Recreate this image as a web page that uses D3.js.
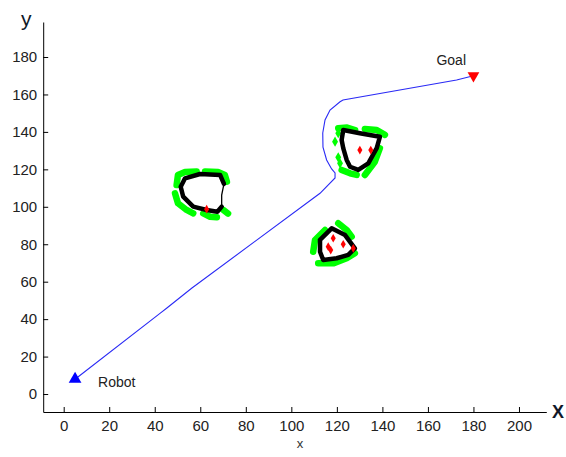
<!DOCTYPE html>
<html>
<head>
<meta charset="utf-8">
<script src="https://cdn.jsdelivr.net/npm/d3@7"></script>
<style>
  body { margin: 0; background: #fff; }
  #chart { width: 566px; height: 457px; }
  .axis text { font-family: "Liberation Sans", Arial, sans-serif; font-size: 15px; fill: #222; }
  .axis path, .axis line { stroke: #000; stroke-width: 1; }
</style>
</head>
<body>
<div id="chart"></div>
<script>
// ticks
const xTicks = [0, 20, 40, 60, 80, 100, 120, 140, 160, 180, 200];
const yTicks = [0, 20, 40, 60, 80, 100, 120, 140, 160, 180];

// robot trajectory (x, y)
const robotPath = [
    [5, 8], [6.4, 9.2], [42.3, 43.1], [45.2, 45.8], [56.2, 56.5],
    [112.6, 107.2], [119.2, 115.4], [119.2, 118.1], [117.7, 120.2], [115.5, 125],
    [113.9, 131.9], [113.8, 139.4], [114.8, 146.4], [117, 151.7], [121.4, 156.1],
    [122.7, 157], [172.6, 167.7], [180, 170]
];
const robotPos = [5, 8];
const goalPos = [180, 170];

// obstacle outlines (black)
const obstacleOutlines = [
    [[70.4, 112.2], [68.7, 117.0], [59.9, 117.5], [53.3, 115.2], [51.4, 110.7], [52.5, 105.4],
     [56.9, 100.1], [62.8, 98.3], [67.5, 97.4], [69.4, 100.1], [69.4, 106.3], [70.4, 112.2]],
    [[122.8, 141.0], [130.1, 139.3], [138.9, 137.4], [137.5, 131.3], [133.8, 123.2], [129.4, 119.7],
     [125.8, 121.4], [124.3, 125.0], [122.8, 131.3], [122.1, 135.7], [122.8, 141.0]],
    [[112.6, 82.3], [117.7, 88.5], [123.6, 84.9], [127.9, 77.8], [125.0, 74.3], [119.9, 72.5],
     [114.0, 71.6], [112.6, 76.0], [112.6, 82.3]]
];
// thin part of first outline (right side)
const thinEdges = [
    [[69.4, 100.1], [69.4, 106.3], [70.4, 112.2]]
];

// detected boundary points (green) as short chains
const greenChains = [
    [[49.6, 111.6], [50.2, 117.0], [53.3, 118.6], [58.4, 118.8]],
    [[62.1, 118.8], [67.8, 118.6], [70.8, 117.0], [71.7, 113.4]],
    [[48.9, 107.2], [50.2, 101.9], [54.0, 98.3], [56.9, 96.5]],
    [[61.3, 96.5], [64.3, 94.7], [67.3, 94.4]],
    [[70.1, 98.3], [72.2, 96.4]],
    [[120.6, 141.9], [124.5, 142.3], [128.0, 141.0]],
    [[132.3, 141.6], [137.5, 141.0], [141.1, 138.4]],
    [[138.9, 131.3], [136.7, 124.1], [132.3, 117.0]],
    [[122.1, 119.7], [125.8, 117.9], [128.7, 117.0]],
    [[109.6, 76.0], [110.4, 82.3], [114.8, 87.6]],
    [[120.6, 91.2], [124.3, 87.6], [126.5, 84.0]],
    [[111.8, 69.8], [118.4, 69.8], [124.3, 72.5], [127.9, 75.2]]
];
const greenDots = [[120.6, 139.3], [119.2, 134.8], [120.6, 126.4], [121.4, 123.2]];

// interior points (red)
const redDots = [
    [62.8, 98.7],
    [130.1, 130.3], [134.9, 130.3],
    [118.4, 83.2], [116.2, 78.7], [117.3, 76.9], [122.8, 80.0], [127.2, 77.8]
];

const W = 566, H = 457;
const svg = d3.select("#chart").append("svg")
    .attr("width", W)
    .attr("height", H);

const x = d3.scaleLinear().domain([-9, 212]).range([43.2, 546.3]);
const y = d3.scaleLinear().domain([-9.6, 198.7]).range([412, 22]);

svg.append("g")
    .attr("class", "axis axis-x")
    .attr("transform", `translate(0, ${y.range()[0]})`)
    .call(d3.axisBottom(x).tickValues(xTicks).tickSizeInner(-5).tickSizeOuter(0).tickPadding(8));

svg.append("g")
    .attr("class", "axis axis-y")
    .attr("transform", `translate(${x.range()[0]}, 0)`)
    .call(d3.axisLeft(y).tickValues(yTicks).tickSizeInner(-5).tickSizeOuter(0).tickPadding(6));

const line = d3.line().x(d => x(d[0])).y(d => y(d[1]));

// green chains
svg.append("g").selectAll("path")
    .data(greenChains)
    .enter().append("path")
    .attr("d", line)
    .attr("fill", "none")
    .attr("stroke", "#00ff00")
    .attr("stroke-width", 6.5)
    .attr("stroke-linecap", "round")
    .attr("stroke-linejoin", "round");

svg.append("g").selectAll("path")
    .data(greenDots)
    .enter().append("path")
    .attr("transform", d => `translate(${x(d[0])}, ${y(d[1])})`)
    .attr("d", d3.symbol().type(d3.symbolDiamond).size(30))
    .attr("fill", "#00ff00");

// obstacle outlines
svg.append("g").selectAll("path")
    .data(obstacleOutlines)
    .enter().append("path")
    .attr("d", (d, i) => i === 0 ? line(d.slice(0, 10)) : line(d))
    .attr("fill", "none")
    .attr("stroke", "#000")
    .attr("stroke-width", 4.5)
    .attr("stroke-linejoin", "round")
    .attr("stroke-linecap", "round");

svg.append("g").selectAll("path")
    .data(thinEdges)
    .enter().append("path")
    .attr("d", line)
    .attr("fill", "none")
    .attr("stroke", "#000")
    .attr("stroke-width", 1.3);

// red interior points
svg.append("g").selectAll("path")
    .data(redDots)
    .enter().append("path")
    .attr("transform", d => `translate(${x(d[0])}, ${y(d[1])})`)
    .attr("d", d3.symbol().type(d3.symbolDiamond).size(22))
    .attr("fill", "#ff0000");

// trajectory
svg.append("path")
    .datum(robotPath)
    .attr("d", line)
    .attr("fill", "none")
    .attr("stroke", "#2a2af5")
    .attr("stroke-width", 1.1);

// start / goal markers
svg.append("path")
    .attr("transform", `translate(${x(robotPos[0])}, ${y(robotPos[1])})`)
    .attr("d", d3.symbol().type(d3.symbolTriangle).size(70))
    .attr("fill", "#0000ff");

svg.append("path")
    .attr("transform", `translate(${x(goalPos[0])}, ${y(goalPos[1])}) rotate(180)`)
    .attr("d", d3.symbol().type(d3.symbolTriangle).size(60))
    .attr("fill", "#ff0000");

const labelFont = "'Liberation Sans', Arial, sans-serif";

svg.append("text")
    .attr("x", x(robotPos[0]) + 23)
    .attr("y", y(robotPos[1]) + 8)
    .attr("font-family", labelFont)
    .attr("font-size", 14)
    .attr("fill", "#222")
    .text("Robot");

svg.append("text")
    .attr("x", x(goalPos[0]) - 37)
    .attr("y", y(goalPos[1]) - 11)
    .attr("font-family", labelFont)
    .attr("font-size", 14)
    .attr("fill", "#222")
    .text("Goal");

// axis names
svg.append("text")
    .attr("x", 552)
    .attr("y", 418)
    .attr("font-family", labelFont)
    .attr("font-size", 18)
    .attr("font-weight", "bold")
    .attr("fill", "#101828")
    .text("X");

svg.append("text")
    .attr("x", 21)
    .attr("y", 26)
    .attr("font-family", labelFont)
    .attr("font-size", 21)
    .attr("fill", "#101828")
    .text("y");

svg.append("text")
    .attr("x", 300)
    .attr("y", 448)
    .attr("text-anchor", "middle")
    .attr("font-family", labelFont)
    .attr("font-size", 13)
    .attr("fill", "#333")
    .text("x");
</script>
</body>
</html>
